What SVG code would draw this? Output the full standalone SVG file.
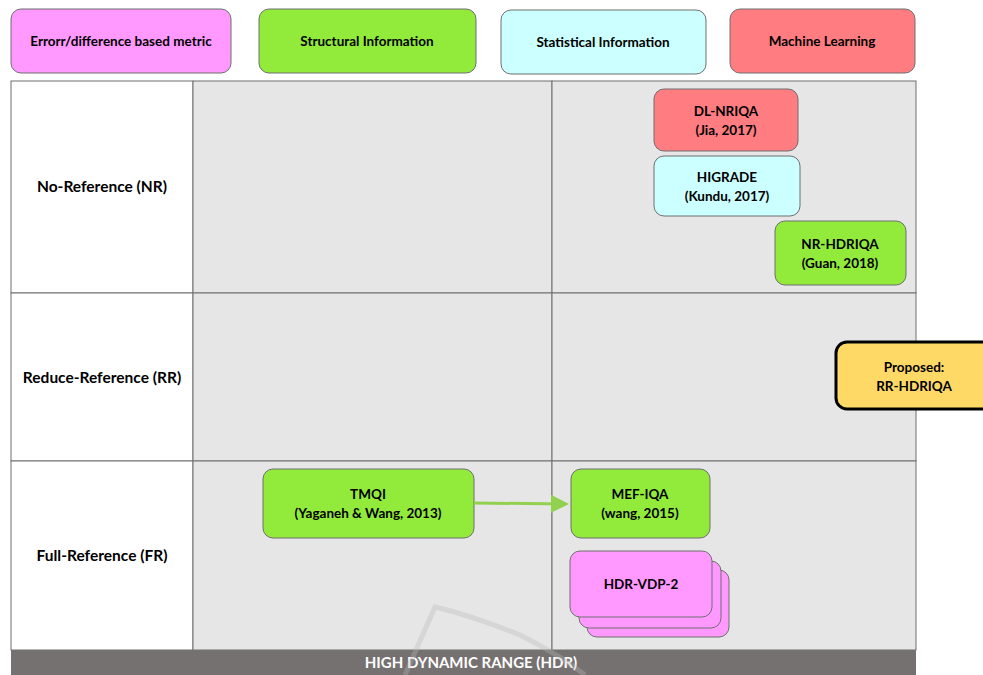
<svg xmlns="http://www.w3.org/2000/svg" width="983" height="675" viewBox="0 0 983 675">
<style>
text{font-family:Lato,"Open Sans","Liberation Sans",sans-serif;font-weight:bold;font-size:13.5px;fill:#000;text-anchor:middle}
.row{font-size:15.5px}
.box{stroke:#6f6f6f;stroke-width:1}
.mag{fill:#ff99ff}.grn{fill:#92eb3a}.cyn{fill:#ccffff}.red{fill:#ff7c80}
.cell{fill:#e7e6e6;stroke:#6f6f6f;stroke-width:1}
.wcell{fill:#fff;stroke:#6f6f6f;stroke-width:1}
</style>
<defs>
<marker id="ah" markerWidth="6" markerHeight="6" refX="5" refY="3" orient="auto" markerUnits="strokeWidth">
<path d="M0,0 L6,3 L0,6 z" fill="#92d050"/>
</marker>
</defs>
<rect width="983" height="675" fill="#fff"/>
<g id="grid">
<rect class="wcell" x="11" y="81" width="182" height="212"/>
<rect class="cell" x="193" y="81" width="359" height="212"/>
<rect class="cell" x="552" y="81" width="364" height="212"/>
<rect class="wcell" x="11" y="293" width="182" height="168"/>
<rect class="cell" x="193" y="293" width="359" height="168"/>
<rect class="cell" x="552" y="293" width="364" height="168"/>
<rect class="wcell" x="11" y="461" width="182" height="189"/>
<rect class="cell" x="193" y="461" width="359" height="189"/>
<rect class="cell" x="552" y="461" width="364" height="189"/>
<rect x="11" y="650" width="905" height="25" fill="#767171"/>
<text x="471" y="668" style="fill:#fff;font-size:15px">HIGH DYNAMIC RANGE (HDR)</text>
<text class="row" x="102" y="192">No-Reference (NR)</text>
<text class="row" x="102" y="383">Reduce-Reference (RR)</text>
<text class="row" x="102" y="561">Full-Reference (FR)</text>
</g>
<path d="M405,675 L435,607 Q470,615 520,635 Q560,655 585,675" fill="none" stroke="#b8b8b8" stroke-width="5" opacity="0.35"/>
<g id="legend-error"><rect class="box mag" x="11" y="9" width="220" height="64" rx="10"/><text x="121" y="46">Errorr/difference based metric</text></g>
<g id="legend-structural"><rect class="box grn" x="259" y="9" width="217" height="64" rx="10"/><text x="367" y="46">Structural Information</text></g>
<g id="legend-statistical"><rect class="box cyn" x="501" y="10" width="205" height="64" rx="10"/><text x="603" y="47">Statistical Information</text></g>
<g id="legend-ml"><rect class="box red" x="730" y="9" width="185" height="64" rx="10"/><text x="822" y="46">Machine Learning</text></g>
<g id="dl-nriqa"><rect class="box red" x="654" y="89" width="144" height="62" rx="10"/><text x="726" y="116">DL-NRIQA</text><text x="726" y="135">(Jia, 2017)</text></g>
<g id="higrade"><rect class="box cyn" x="654" y="156" width="146" height="60" rx="10"/><text x="727" y="182">HIGRADE</text><text x="727" y="201">(Kundu, 2017)</text></g>
<g id="nr-hdriqa"><rect class="box grn" x="775" y="221" width="131" height="64" rx="10"/><text x="840" y="249">NR-HDRIQA</text><text x="840" y="268">(Guan, 2018)</text></g>
<g id="proposed"><rect x="836" y="342" width="160" height="67" rx="11" fill="#ffd966" stroke="#000" stroke-width="3"/><text x="914" y="372">Proposed:</text><text x="914" y="391">RR-HDRIQA</text></g>
<g id="tmqi"><rect class="box grn" x="263" y="469" width="211" height="69" rx="10"/><text x="368" y="499">TMQI</text><text x="368" y="518">(Yaganeh &amp; Wang, 2013)</text></g>
<g id="mef-iqa"><rect class="box grn" x="571" y="469" width="139" height="69" rx="10"/><text x="640" y="499">MEF-IQA</text><text x="640" y="518">(wang, 2015)</text></g>
<g id="hdr-vdp-2">
<rect class="box mag" x="587" y="570" width="142" height="67" rx="10"/>
<rect class="box mag" x="579" y="561" width="142" height="67" rx="10"/>
<rect class="box mag" x="570" y="551" width="142" height="66" rx="10"/>
<text x="641" y="589">HDR-VDP-2</text>
</g>
<g id="connectors">
<line x1="474" y1="503" x2="566" y2="504" stroke="#92d050" stroke-width="3" marker-end="url(#ah)"/>
</g>
</svg>
